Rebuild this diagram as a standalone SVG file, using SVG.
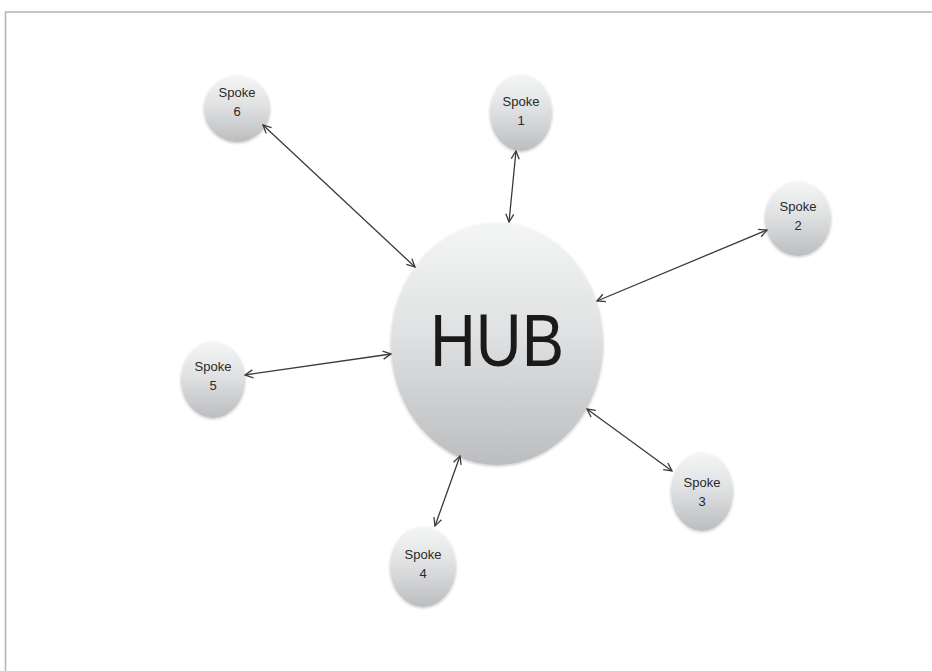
<svg xmlns="http://www.w3.org/2000/svg" width="932" height="671" viewBox="0 0 932 671">
  <defs>
    <linearGradient id="g" x1="0" y1="0" x2="0" y2="1">
      <stop offset="0" stop-color="#f4f5f5"/>
      <stop offset="0.45" stop-color="#e0e1e2"/>
      <stop offset="1" stop-color="#bcbdbf"/>
    </linearGradient>
    <filter id="sh" x="-20%" y="-20%" width="140%" height="140%">
      <feGaussianBlur in="SourceAlpha" stdDeviation="1.5"/>
      <feOffset dx="0" dy="1" result="b"/>
      <feComponentTransfer><feFuncA type="linear" slope="0.25"/></feComponentTransfer>
      <feMerge><feMergeNode/><feMergeNode in="SourceGraphic"/></feMerge>
    </filter>
    <marker id="ah" viewBox="0 0 10 10" refX="9" refY="5" markerWidth="10" markerHeight="10" markerUnits="userSpaceOnUse" orient="auto-start-reverse">
      <path d="M1,1 L9,5 L1,9" fill="none" stroke="#3a3a3a" stroke-width="1.3"/>
    </marker>
  </defs>
  <style>
    .node { fill: url(#g); filter: url(#sh); }
    .lbl { font-family: "Liberation Sans", Arial, sans-serif; font-size: 13px; fill: #2a2a2a; text-anchor: middle; }
    .hub { font-family: "Liberation Sans", Arial, sans-serif; font-size: 74px; fill: #1a1a1a; text-anchor: middle; }
    .conn line { stroke: #3a3a3a; stroke-width: 1.3; marker-start: url(#ah); marker-end: url(#ah); }
  </style>
  <rect width="932" height="671" fill="#ffffff"/>
  <rect x="5.5" y="12" width="940" height="700" fill="none" stroke="#b4b4b4" stroke-width="1.5"/>

  <g id="hub">
    <ellipse class="node" cx="497" cy="344" rx="106" ry="121"/>
    <text class="hub" x="497" y="366" textLength="134" lengthAdjust="spacingAndGlyphs">HUB</text>
  </g>
  <g id="spoke1">
    <ellipse class="node" cx="521" cy="113" rx="31" ry="38"/>
    <text class="lbl" x="521" y="106">Spoke</text>
    <text class="lbl" x="521" y="125">1</text>
  </g>
  <g id="spoke2">
    <ellipse class="node" cx="798" cy="219" rx="33" ry="37"/>
    <text class="lbl" x="798" y="211">Spoke</text>
    <text class="lbl" x="798" y="230">2</text>
  </g>
  <g id="spoke3">
    <ellipse class="node" cx="702" cy="492" rx="31" ry="39"/>
    <text class="lbl" x="702" y="487">Spoke</text>
    <text class="lbl" x="702" y="506">3</text>
  </g>
  <g id="spoke4">
    <ellipse class="node" cx="423" cy="567" rx="33" ry="40"/>
    <text class="lbl" x="423" y="559">Spoke</text>
    <text class="lbl" x="423" y="578">4</text>
  </g>
  <g id="spoke5">
    <ellipse class="node" cx="213" cy="380" rx="32" ry="38"/>
    <text class="lbl" x="213" y="371">Spoke</text>
    <text class="lbl" x="213" y="390">5</text>
  </g>
  <g id="spoke6">
    <ellipse class="node" cx="237" cy="109" rx="33" ry="33"/>
    <text class="lbl" x="237" y="97">Spoke</text>
    <text class="lbl" x="237" y="116">6</text>
  </g>

  <g id="connectors" class="conn">
    <line x1="509" y1="222" x2="516" y2="151"/>
    <line x1="597" y1="301" x2="767" y2="230"/>
    <line x1="587" y1="409" x2="672" y2="471"/>
    <line x1="460" y1="456" x2="435" y2="526"/>
    <line x1="391" y1="354" x2="245" y2="375"/>
    <line x1="415" y1="267" x2="263" y2="125"/>
  </g>
</svg>
